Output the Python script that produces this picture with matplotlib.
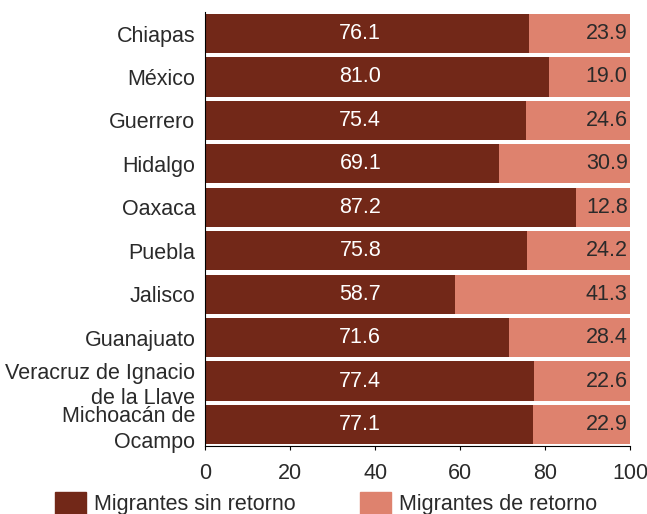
import matplotlib.pyplot as plt
from matplotlib.patches import Patch
import numpy as np

plt.rcParams['font.family'] = ['Liberation Sans', 'DejaVu Sans']

estados = ['Chiapas', 'México', 'Guerrero', 'Hidalgo', 'Oaxaca', 'Puebla',
           'Jalisco', 'Guanajuato', 'Veracruz de Ignacio\nde la Llave',
           'Michoacán de\nOcampo']
sin_retorno = [76.1, 81.0, 75.4, 69.1, 87.2, 75.8, 58.7, 71.6, 77.4, 77.1]
de_retorno = [23.9, 19.0, 24.6, 30.9, 12.8, 24.2, 41.3, 28.4, 22.6, 22.9]

c_dark = '#722818'
c_light = '#de826e'
fs = 15.5

fig = plt.figure(figsize=(6.47, 5.14), dpi=100)
ax = fig.add_axes([0.317, 0.132, 0.657, 0.845])

y = np.arange(len(estados))
ax.barh(y, sin_retorno, height=0.9, color=c_dark)
ax.barh(y, de_retorno, left=sin_retorno, height=0.9, color=c_light)

for i in range(len(estados)):
    ax.text(36.5, y[i], f'{sin_retorno[i]:.1f}', ha='center', va='center',
            color='white', fontsize=fs)
    ax.text(99.4, y[i], f'{de_retorno[i]:.1f}', ha='right', va='center',
            color='#2a2a2a', fontsize=fs)

ax.set_ylim(len(estados) - 0.5, -0.5)
ax.set_xlim(0, 100)
ax.set_yticks(y)
ax.set_yticklabels(estados, fontsize=fs, color='#2a2a2a', linespacing=1.3)
ax.tick_params(axis='y', length=0, pad=7)
ax.set_xticks([0, 20, 40, 60, 80, 100])
ax.tick_params(axis='x', labelsize=fs, labelcolor='#2a2a2a', length=3, pad=9)
for s in ['top', 'right']:
    ax.spines[s].set_visible(False)

handles = [Patch(color=c_dark, label='Migrantes sin retorno'),
           Patch(color=c_light, label='Migrantes de retorno')]
fig.legend(handles=handles, loc='upper left', bbox_to_anchor=(0.065, 0.068),
           ncol=2, frameon=False, fontsize=fs, handlelength=1.45,
           handleheight=1.2, columnspacing=3.0, handletextpad=0.35,
           borderpad=0.1, labelcolor='#2a2a2a')

fig.savefig('out.png', dpi=100)
